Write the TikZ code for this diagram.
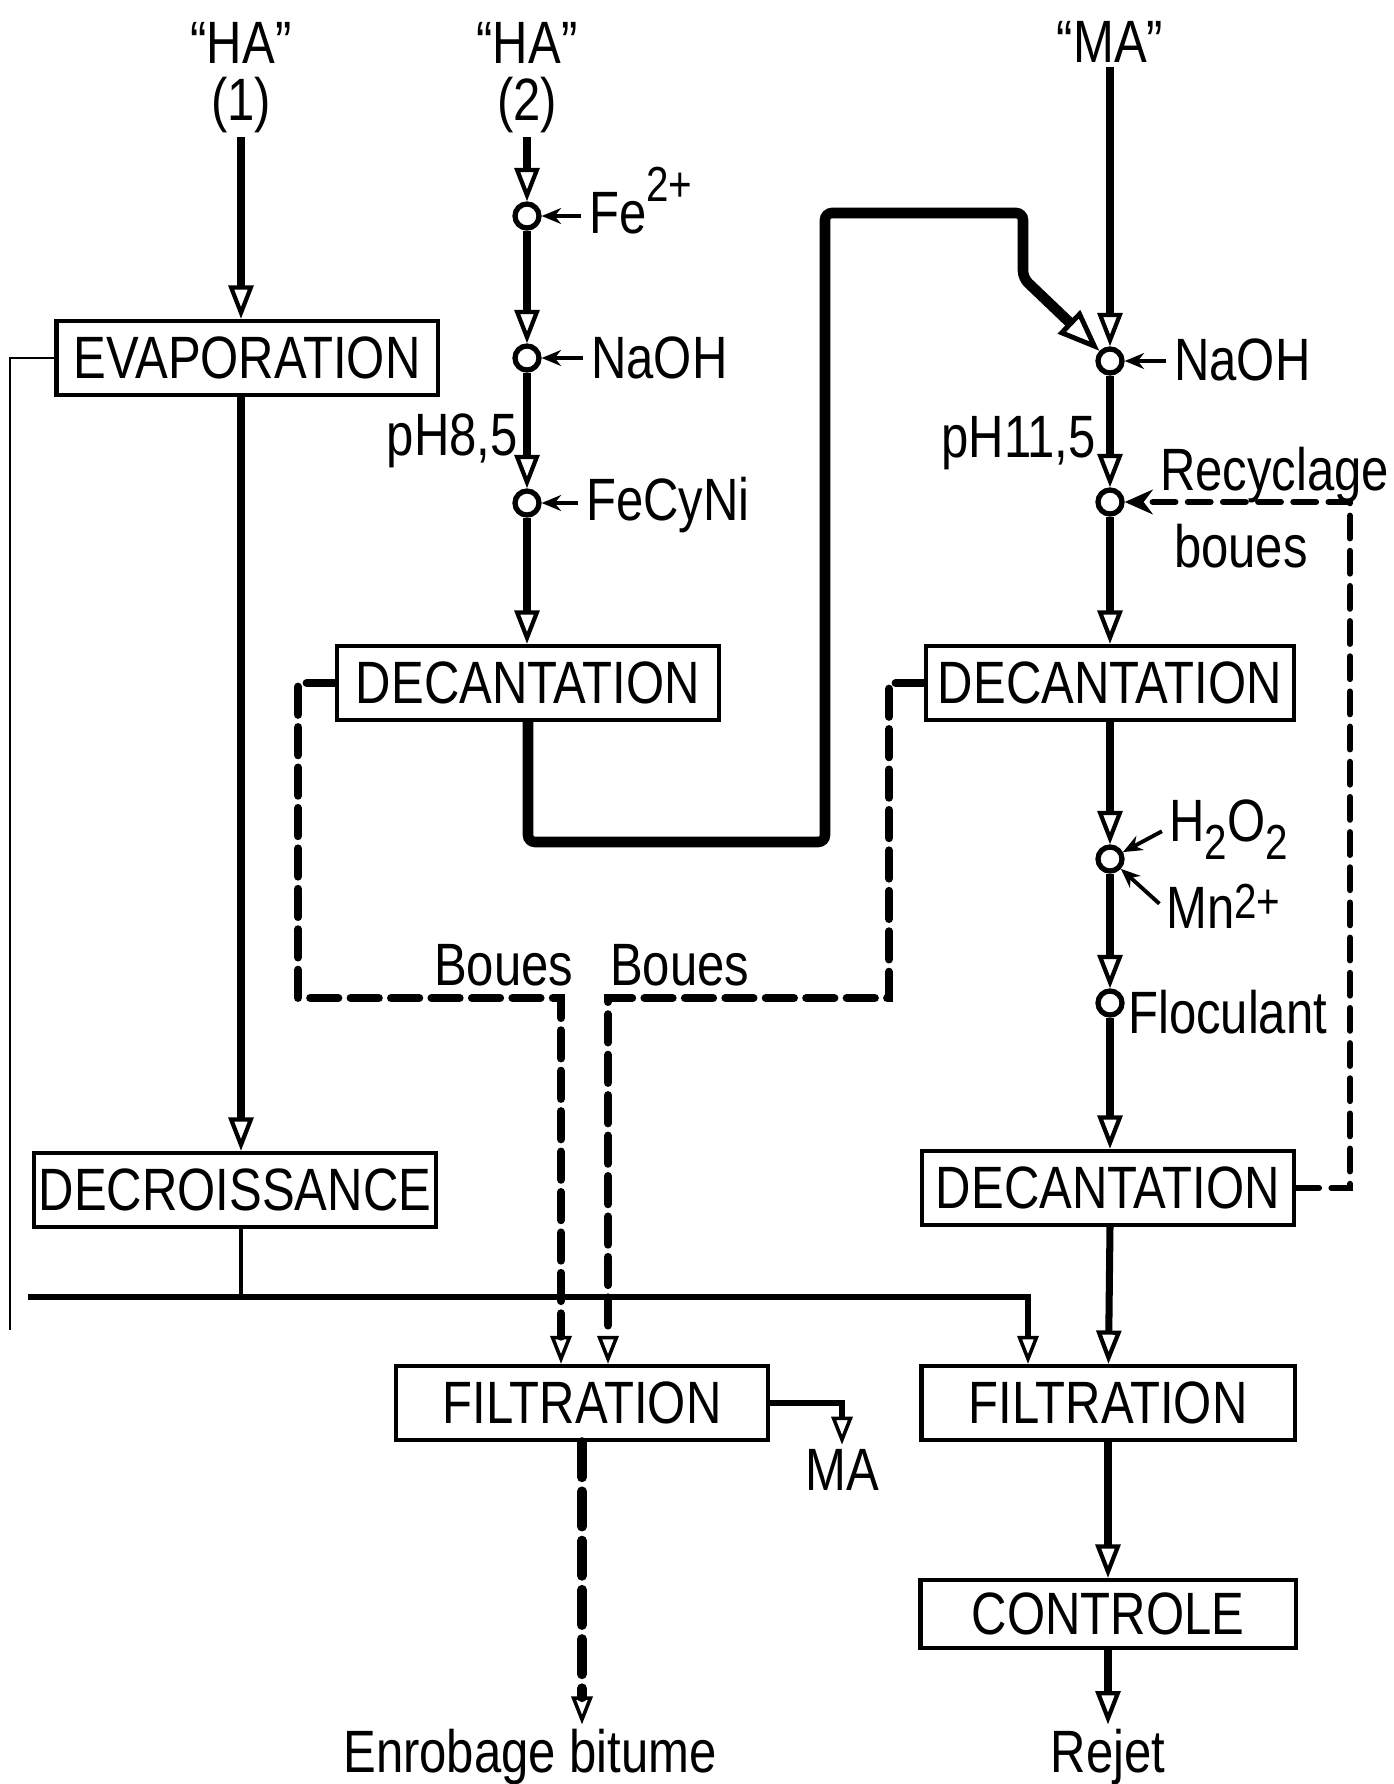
\documentclass[tikz,border=0pt]{standalone}
\usepackage{fontspec}
\setmainfont{Liberation Sans}[FakeStretch=0.82]
\usetikzlibrary{arrows.meta, positioning}
\newcommand\lbl{\fontsize{17}{16.2}\selectfont}
\newcommand\chup[2][1ex]{\raisebox{#1}{\fontsize{14}{14}\selectfont #2}}
\newcommand\chdn[1]{\raisebox{-0.6ex}{\fontsize{14}{14}\selectfont #1}}

\begin{document}
\begin{tikzpicture}[x=0.01cm, y=-0.01cm,
  box/.style={draw, line width=1.2pt, minimum height=0.74cm, inner sep=1pt, font=\lbl},
  txt/.style={inner sep=1pt, font=\lbl},
  junc/.style={circle, draw, line width=1.5pt, minimum size=0.24cm, inner sep=0pt},
  flow/.style={line width=2pt, -{Triangle[open, length=9.5pt, width=7pt, line width=1.2pt]}},
  pipe/.style={line width=3pt, rounded corners=2pt, -{Triangle[open, length=12pt, width=9pt, line width=1.4pt]}},
  sludge/.style={line width=2.3pt, line cap=round, dash pattern=on 8pt off 3.5pt,
    -{Triangle[open, length=8pt, width=6pt, line width=1pt]}},
  bitume/.style={line width=2.8pt, line cap=round, dash pattern=on 10pt off 4pt,
    -{Triangle[open, length=8pt, width=6pt, line width=1pt]}},
  recyc/.style={line width=1.7pt, line cap=round, dash pattern=on 6.5pt off 3.5pt, -{Stealth[length=8pt, width=7pt]}},
  feed/.style={line width=1.1pt, shorten <=1pt, -{Stealth[length=5.5pt, width=4.5pt]}},
  bus/.style={line width=1.5pt, -{Triangle[open, length=8pt, width=6pt, line width=1pt]}},
  rim/.style={line width=0.8pt},
]
\useasboundingbox (0,0) rectangle (1393,1784);

% sources
\node[txt, align=center] (ha1) at (241,78) {“HA”\\(1)};
\node[txt, align=center] (ha2) at (527,78) {“HA”\\(2)};
\node[txt] (ma) at (1110,42) {“MA”};

% treatment units
\node[box, minimum width=3.81cm] (evap) at (247,358) {EVAPORATION};
\node[box, minimum width=3.82cm] (dec1) at (528,683) {DECANTATION};
\node[box, minimum width=3.68cm] (dec2) at (1110,683) {DECANTATION};
\node[box, minimum width=3.72cm] (dec3) at (1108,1188) {DECANTATION};
\node[box, minimum width=4.02cm] (decr) at (235,1190) {DECROISSANCE};
\node[box, minimum width=3.72cm] (filt1) at (582,1403) {FILTRATION};
\node[box, minimum width=3.73cm] (filt2) at (1108,1403) {FILTRATION};
\node[box, minimum width=3.75cm, minimum height=0.68cm] (ctrl) at (1108,1614) {CONTROLE};

% mixing points
\node[junc] (fe) at (527,216) {};
\node[junc] (naoh1) at (527,358) {};
\node[junc] (fecy) at (527,503) {};
\node[junc] (naoh2) at (1110,361) {};
\node[junc] (recy) at (1110,502) {};
\node[junc] (ox) at (1110,859) {};
\node[junc] (floc) at (1110,1003) {};

% reagents and labels
\node[txt, anchor=base west] (lfe) at (585,233) {Fe\chup{2+}};
\node[txt, anchor=base west] (lna1) at (587,378) {NaOH};
\node[txt, anchor=base west] (lfcn) at (582,520) {FeCyNi};
\node[txt, anchor=base east] (ph1) at (522,455) {pH8,5};
\node[txt, anchor=base west] (lna2) at (1170,380) {NaOH};
\node[txt, anchor=base east] (ph2) at (1100,457) {pH11,5};
\node[txt, anchor=base west] (lrec) at (1156,490) {Recyclage};
\node[txt, anchor=base west] (lbou) at (1170,567) {boues};
\node[txt, anchor=base west] (lh2o2) at (1165,841) {H\chdn{2}O\chdn{2}};
\node[txt, anchor=base west] (lmn) at (1162,928) {Mn\chup[0.3ex]{2+}};
\node[txt, anchor=base west] (lfloc) at (1124,1033) {Floculant};
\node[txt, anchor=base west] (lb1) at (430,985) {Boues};
\node[txt, anchor=base west] (lb2) at (606,985) {Boues};
\node[txt, anchor=base] (lma) at (842,1490) {MA};
\node[txt, anchor=base] (lbit) at (530,1772) {Enrobage bitume};
\node[txt, anchor=base] (lrej) at (1108,1772) {Rejet};

% bends
\coordinate (lv) at (10,1330);
\coordinate (h0) at (28,1297);
\coordinate (h1) at (1028,1297);
\coordinate (p1) at (825,842);
\coordinate (p2) at (1023,213);
\coordinate (p3) at (1023,278);
\coordinate (s1) at (298,998);
\coordinate (s1a) at (561,998);
\coordinate (s2) at (889,998);
\coordinate (s2a) at (608,998);
\coordinate (rx) at (1350,1188);

% "HA" (1)
\draw[flow] (ha1) -- (ha1 |- evap.north);
\draw[flow] (evap.south -| ha1) -- (decr.north -| ha1);
\draw[rim] (evap.west) -| (lv);
\draw[line width=1.3pt] (decr.south -| ha1) -- (ha1 |- h0);
\draw[bus] (h0) -| (h1 |- filt2.north);

% "HA" (2)
\draw[flow] (ha2) -- (fe);
\draw[flow] (fe) -- (naoh1);
\draw[flow] (naoh1) -- (fecy);
\draw[flow] (fecy) -- (fecy |- dec1.north);
\draw[feed] (fe -| lfe.west) -- (fe);
\draw[feed] (naoh1 -| lna1.west) -- (naoh1);
\draw[feed] (fecy -| lfcn.west) -- (fecy);
\draw[pipe] (dec1.south) |- (p1) |- (p2) -- (p3) -- (naoh2);

% "MA"
\draw[flow] (ma) -- (naoh2);
\draw[flow] (naoh2) -- (recy);
\draw[flow] (recy) -- (dec2);
\draw[flow] (dec2) -- (ox);
\draw[flow] (ox) -- (floc);
\draw[flow] (floc) -- (floc |- dec3.north);
\draw[flow] (dec3.south -| floc) -- (filt2);
\draw[flow] (filt2) -- (ctrl);
\draw[flow] (ctrl) -- (lrej);
\draw[feed] (naoh2 -| lna2.west) -- (naoh2);
\draw[feed] (lh2o2.west) -- (ox);
\draw[feed] (lmn.west) -- (ox);
\draw[recyc] (dec3.east) -- (rx) |- (recy);

% sludges
\draw[sludge] (dec1.west) -| (s1) -- (s1a) -- (s1a |- filt1.north);
\draw[sludge] (dec2.west) -| (s2) -- (s2a) -- (s2a |- filt1.north);
\draw[bitume] (filt1.south) -- (filt1.south |- lbit.north);
\draw[bus] (filt1.east) -| (lma);
\end{tikzpicture}
\end{document}
